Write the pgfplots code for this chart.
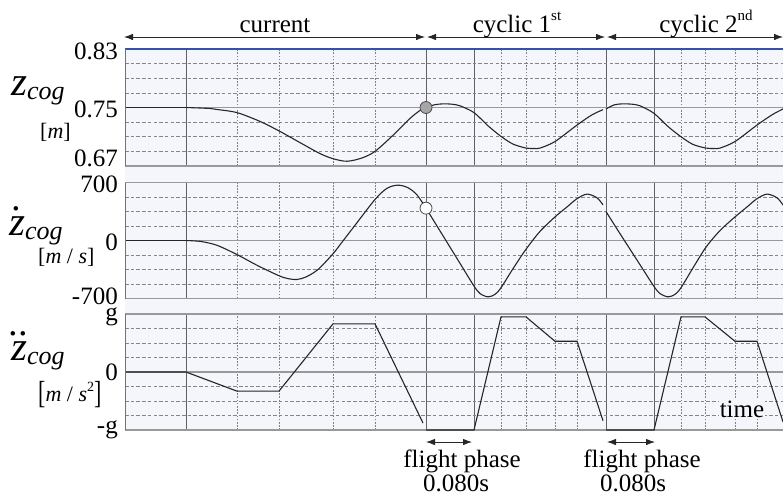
\documentclass[border=0pt]{standalone}
\usepackage{fontspec}
\setmainfont{Liberation Serif}
\usepackage{pgfplots}
\pgfplotsset{compat=1.18}
\usetikzlibrary{arrows.meta}
\definecolor{bgc}{RGB}{245,246,252}
\definecolor{topblue}{RGB}{52,82,170}
\newcommand\fs[1]{\fontsize{#1}{#1}\selectfont}
\newcommand\accz[1]{\leavevmode\setbox0\hbox{\fs{41}\itshape z}\rlap{\hbox to \wd0{\hss\raisebox{0.6em}{\fs{38}#1}\hss}}\box0}
\newcommand\zlab[1]{{\fs{41}\itshape #1}\raisebox{-4pt}{\fs{26}\itshape cog}}
\newcommand\sups[1]{\raisebox{0.45em}{\fs{15}#1}}

\pgfplotsset{
  panel/.style={
    scale only axis, width=658pt, xmin=-0.10167, xmax=0.995,
    xtick={0,0.4,0.48,0.7,0.78},
    minor xtick={0.085,0.155,0.245,0.315,0.525,0.5667,0.615,0.6517,0.825,0.865,0.915,0.9517},
    xticklabels={},
    xmajorgrids, xminorgrids, ymajorgrids, yminorgrids,
    major x grid style={draw=black!62, line width=0.9pt},
    minor x grid style={draw=black!50, line width=0.7pt, dash pattern=on 1.6pt off 1.6pt},
    major y grid style={draw=black!40, line width=1.1pt},
    minor y grid style={draw=black!48, line width=0.7pt, dash pattern=on 3.5pt off 2.2pt},
    major tick length=0pt, minor tick length=0pt,
    axis line style={draw=none},
    yticklabel style={font=\fs{25}, inner sep=0pt, xshift=-7pt},
    anchor=north west,
  },
  curve/.style={black!85, line width=1.1pt, no marks},
}

\begin{document}
\begin{tikzpicture}
\fill[bgc] (125pt,-49pt) rectangle (783pt,-430pt);

% ---------- panel 1: position ----------
\begin{axis}[panel, height=117pt, at={(125pt,-49pt)},
  ymin=0.67, ymax=0.83, ytick={0.75,0.83}, yticklabels={0.75,0.83},
  yticklabel style={yshift=-2pt},
  extra y ticks={0.67}, extra y tick labels={0.67},
  extra y tick style={grid=major, yticklabel style={yshift=9.5pt}},
  minor ytick={0.69,0.71,0.73,0.77,0.79,0.81}]
\addplot[curve] coordinates {(-0.10167,0.75) (0,0.75)};
\addplot[curve, smooth] coordinates {
 (0,0.75) (0.04,0.7487) (0.0517,0.7473) (0.085,0.743) (0.1233,0.731) (0.155,0.718)
 (0.19,0.702) (0.2233,0.687) (0.245,0.680) (0.2683,0.6765) (0.2933,0.681) (0.315,0.690)
 (0.345,0.712) (0.3733,0.735) (0.39,0.746) (0.4,0.75)};
\addplot[curve, smooth] coordinates {
 (0.4,0.750) (0.414,0.7537) (0.4283,0.7550) (0.4433,0.7545) (0.4567,0.7523) (0.48,0.743)
 (0.5033,0.725) (0.525,0.7105) (0.545,0.700) (0.5667,0.6945) (0.58,0.694) (0.59,0.6945)
 (0.615,0.7035) (0.6517,0.726) (0.6767,0.740) (0.695,0.747)};
\addplot[curve, smooth] coordinates {
 (0.7,0.748) (0.714,0.7537) (0.7283,0.7550) (0.7433,0.7545) (0.7567,0.7523) (0.78,0.742)
 (0.8033,0.724) (0.825,0.710) (0.845,0.6995) (0.8667,0.6945) (0.88,0.694) (0.89,0.6945)
 (0.915,0.7035) (0.9517,0.726) (0.9767,0.740) (0.995,0.748) (1.0,0.75)};
\addplot[only marks, mark=*, mark size=6pt, mark options={fill=black!35, draw=black!70, line width=0.8pt}] coordinates {(0.4,0.75)};
\addplot[only marks, mark=*, mark size=6pt, mark options={fill=white, draw=black!70, line width=0.8pt}] coordinates {(1.0,0.75)};
\end{axis}

% ---------- panel 2: velocity ----------
\begin{axis}[panel, height=116pt, at={(125pt,-182.5pt)},
  ymin=-700, ymax=700, ytick={0,700}, yticklabels={0,700},
  yticklabel style={yshift=-1.5pt},
  extra y ticks={-700}, extra y tick labels={-700},
  extra y tick style={grid=major, yticklabel style={yshift=3.5pt}},
  minor ytick={-525,-350,-175,175,350,525}]
\addplot[curve] coordinates {(-0.10167,0) (0,0)};
\addplot[curve, smooth] coordinates {
 (0,0) (0.025,-12) (0.0517,-58) (0.085,-170) (0.12,-305) (0.155,-425) (0.17,-460)
 (0.185,-470) (0.2,-440) (0.22,-350) (0.245,-160) (0.26,-20) (0.28,168) (0.315,495)
 (0.335,630) (0.353,668) (0.37,637) (0.385,550) (0.4,390)};
\addplot[curve, smooth] coordinates {
 (0.4,390) (0.42,155) (0.44,-80) (0.46,-315) (0.48,-550) (0.49,-640) (0.5033,-680)
 (0.515,-650) (0.525,-570) (0.545,-340) (0.5667,-105) (0.59,110) (0.615,285)
 (0.635,405) (0.6517,505) (0.6685,560) (0.685,515) (0.695,430)};
\addplot[curve, smooth] coordinates {
 (0.7,350) (0.72,120) (0.74,-105) (0.76,-330) (0.78,-555) (0.79,-640) (0.8033,-680)
 (0.815,-650) (0.825,-570) (0.845,-330) (0.8667,-80) (0.89,120) (0.915,285)
 (0.935,405) (0.9517,505) (0.9685,560) (0.985,515) (0.995,430) (1.0,390)};
\addplot[only marks, mark=*, mark size=6pt, mark options={fill=white, draw=black!70, line width=0.8pt}] coordinates {(0.4,390) (1.0,390)};
\end{axis}

% ---------- panel 3: acceleration ----------
\begin{axis}[panel, height=116pt, at={(125pt,-314pt)}, clip=false,
  ymin=-1, ymax=1, ytick={-1,0}, yticklabels={-g,0},
  extra y ticks={1}, extra y tick labels={g},
  extra y tick style={grid=major, yticklabel style={yshift=-3pt}},
  minor ytick={-0.75,-0.5,-0.25,0.25,0.5,0.75}]
\addplot[curve] coordinates {(-0.10167,0) (0,0) (0.085,-0.33) (0.155,-0.33) (0.245,0.83) (0.315,0.83) (0.395,-0.88)};
\addplot[curve] coordinates {(0.4,-1) (0.48,-1) (0.525,0.95) (0.5667,0.95) (0.615,0.53) (0.6517,0.53) (0.695,-0.84)};
\addplot[curve] coordinates {(0.7,-1) (0.78,-1) (0.825,0.95) (0.865,0.95) (0.915,0.53) (0.9517,0.53) (0.995,-0.86)};
\end{axis}

% borders
\draw[topblue, line width=2pt] (125pt,-49pt) -- (783pt,-49pt);
\foreach \a/\b in {49/166,182.5/298.5,314/430}
  \draw[black!55, line width=0.8pt] (125pt,-\a pt) -- (125pt,-\b pt);

% y labels
\node[anchor=base west, inner sep=0pt] at (11pt,-95pt) {\zlab{z}};
\node[anchor=base west, inner sep=0pt] at (40pt,-138pt) {\fs{22}[\textit{m}]};
\node[anchor=base west, inner sep=0pt] at (9pt,-235pt) {\zlab{\accz{.}}};
\node[anchor=base west, inner sep=0pt] at (38pt,-263pt) {\fs{22}[\textit{m} / \textit{s}]};
\node[anchor=base west, inner sep=0pt] at (11pt,-360pt) {\zlab{\accz{..}}};
\node[anchor=base west, inner sep=0pt] at (38pt,-401pt) {\fs{22}\raisebox{-2pt}{\scalebox{1}[1.45]{[}}\textit{m} / \textit{s}\raisebox{0.45em}{\fs{14}2}\raisebox{-2pt}{\scalebox{1}[1.45]{]}}};

% top phase arrows
\tikzset{phar/.style={{Latex[length=9pt,width=6.5pt]}-{Latex[length=9pt,width=6.5pt]}, line width=0.8pt, black!85}}
\draw[phar] (124pt,-37pt) -- (425pt,-37pt);
\draw[phar] (427pt,-37pt) -- (605pt,-37pt);
\draw[phar] (607pt,-37pt) -- (783pt,-37pt);
\node[anchor=base, inner sep=0pt] at (275pt,-32pt) {\fs{25}current};
\node[anchor=base, inner sep=0pt] at (517pt,-32pt) {\fs{25}cyclic 1\sups{st}};
\node[anchor=base, inner sep=0pt] at (706pt,-32pt) {\fs{25}cyclic 2\sups{nd}};

% time label
\node[fill=bgc, inner sep=1pt, anchor=base] at (742pt,-417pt) {\fs{25}time};

% flight phase annotations
\draw[phar] (426pt,-442pt) -- (472pt,-442pt);
\draw[phar] (607pt,-442pt) -- (655pt,-442pt);
\node[anchor=base, inner sep=0pt] at (462pt,-467pt) {\fs{25}flight phase};
\node[anchor=base, inner sep=0pt] at (456pt,-491pt) {\fs{25}0.080s};
\node[anchor=base, inner sep=0pt] at (642pt,-467pt) {\fs{25}flight phase};
\node[anchor=base, inner sep=0pt] at (633pt,-491pt) {\fs{25}0.080s};

\pgfresetboundingbox
\path[use as bounding box] (0pt,0pt) rectangle (783pt,-496pt);
\end{tikzpicture}
\end{document}
